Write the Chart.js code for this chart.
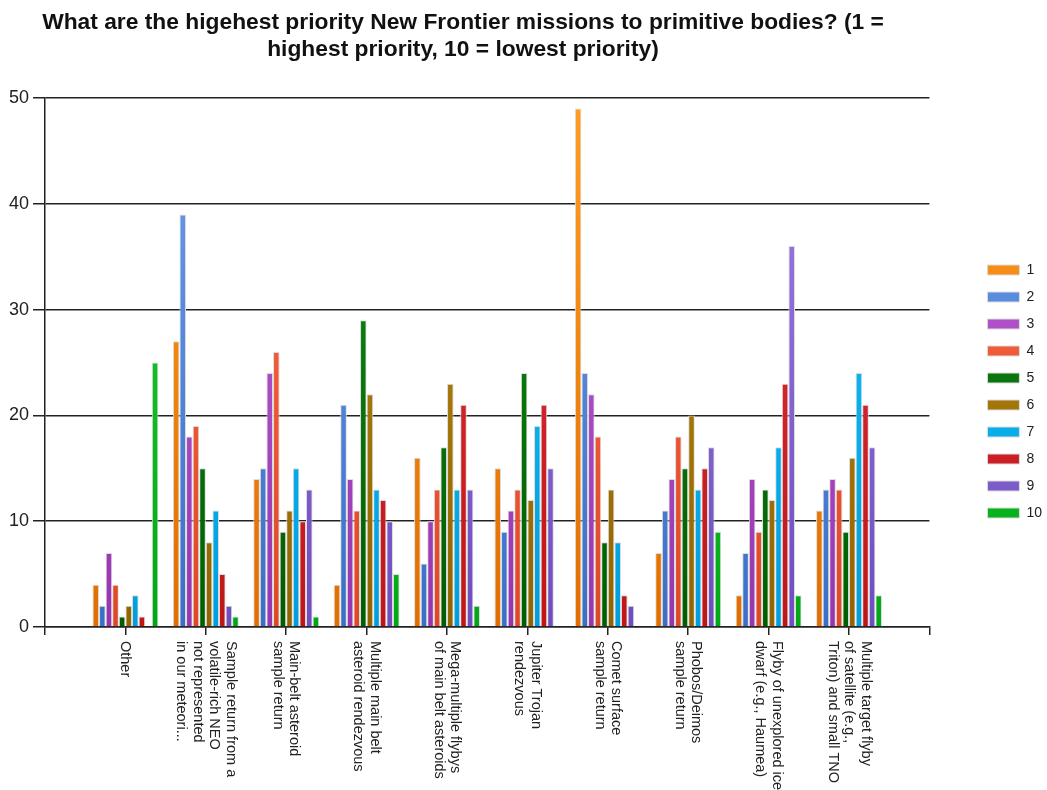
<!DOCTYPE html>
<html>
<head>
<meta charset="utf-8">
<title>New Frontier priorities</title>
<script src="https://cdn.jsdelivr.net/npm/chart.js@4.4.1/dist/chart.umd.min.js"></script>
<style>
  html, body { margin: 0; padding: 0; background: #fff; }
  #wrap { width: 1047px; height: 790px; position: relative; }
</style>
</head>
<body>
<div id="wrap"><canvas id="myChart"></canvas></div>
<script>
// survey answers: number of votes per rank (1..10) for each mission type
var missions = [
    ["Other"],
    ["Sample return from a", "volatile-rich NEO", "not represented", "in our meteori..."],
    ["Main-belt asteroid", "sample return"],
    ["Multiple main belt", "asteroid rendezvous"],
    ["Mega-multiple flybys", "of main belt asteroids"],
    ["Jupiter Trojan", "rendezvous"],
    ["Comet surface", "sample return"],
    ["Phobos/Deimos", "sample return"],
    ["Flyby of unexplored ice", "dwarf (e.g., Haumea)"],
    ["Multiple target flyby", "of satellite (e.g.,", "Triton) and small TNO"]
];
var ranks = ["1", "2", "3", "4", "5", "6", "7", "8", "9", "10"];

var rank1  = [4, 27, 14, 4, 16, 15, 49, 7, 3, 11];
var rank2  = [2, 39, 15, 21, 6, 9, 24, 11, 7, 13];
var rank3  = [7, 18, 24, 14, 10, 11, 22, 14, 14, 14];
var rank4  = [4, 19, 26, 11, 13, 13, 18, 18, 9, 13];
var rank5  = [1, 15, 9, 29, 17, 24, 8, 15, 13, 9];
var rank6  = [2, 8, 11, 22, 23, 12, 13, 20, 12, 16];
var rank7  = [3, 11, 15, 13, 13, 19, 8, 13, 17, 24];
var rank8  = [1, 5, 10, 12, 21, 21, 3, 15, 23, 21];
var rank9  = [0, 2, 13, 10, 13, 15, 2, 17, 36, 17];
var rank10 = [25, 1, 1, 5, 2, 0, 0, 9, 3, 3];

var yTicks = [0, 10, 20, 30, 40, 50];

var titleLines = [
    "What are the higehest priority New Frontier missions to primitive bodies? (1 =",
    "highest priority, 10 = lowest priority)"
];

var FONT = '"Liberation Sans", Arial, sans-serif';

// top / bottom colour of each rank's bars
var shades = [
    ['#ff9c22', '#e06e00'],
    ['#6c9eec', '#3b6fc6'],
    ['#c464dc', '#9636ae'],
    ['#ff6c4a', '#de4826'],
    ['#14901a', '#005e00'],
    ['#bc8c14', '#926400'],
    ['#18c8ff', '#009edc'],
    ['#ea3444', '#be1616'],
    ['#9e80e4', '#6e4ebe'],
    ['#24d436', '#00a816']
];

function shade(top, bottom) {
    return function (ctx) {
        var area = ctx.chart.chartArea;
        if (!area) return bottom;
        var g = ctx.chart.ctx.createLinearGradient(0, area.top, 0, area.bottom);
        g.addColorStop(0, top);
        g.addColorStop(1, bottom);
        return g;
    };
}

// empty slot at each end so the groups sit on ticks 1..10
function pad(arr) {
    return [null].concat(arr, [null]);
}

var series = [rank1, rank2, rank3, rank4, rank5, rank6, rank7, rank8, rank9, rank10];
var datasets = [];
for (var i = 0; i < series.length; i++) {
    datasets.push({
        label: ranks[i],
        data: pad(series[i]),
        backgroundColor: shade(shades[i][0], shades[i][1]),
        borderColor: '#dcdcdc',
        borderWidth: 1,
        categoryPercentage: 0.82,
        barPercentage: 1.0
    });
}

var titlePlugin = {
    id: 'surveyTitle',
    afterDraw: function (chart) {
        var ctx = chart.ctx;
        ctx.save();
        ctx.font = 'bold 22.8px ' + FONT;
        ctx.fillStyle = '#111';
        ctx.textAlign = 'center';
        ctx.textBaseline = 'alphabetic';
        ctx.fillText(titleLines[0], 463, 29);
        ctx.fillText(titleLines[1], 463, 56);
        ctx.restore();
    }
};

// category names run downwards, first line on the right
var missionLabels = {
    id: 'missionLabels',
    afterDraw: function (chart) {
        var ctx = chart.ctx;
        var xs = chart.scales.x;
        var lh = 16.5;
        ctx.save();
        ctx.font = '14.5px ' + FONT;
        ctx.fillStyle = '#222';
        ctx.textAlign = 'left';
        ctx.textBaseline = 'middle';
        for (var i = 0; i < missions.length; i++) {
            var lines = missions[i];
            var cx = xs.getPixelForValue(i + 1);
            for (var k = 0; k < lines.length; k++) {
                var off = ((lines.length - 1) / 2 - k) * lh;
                ctx.save();
                ctx.translate(cx + off, xs.top + 14);
                ctx.rotate(Math.PI / 2);
                ctx.fillText(lines[k], 0, 0);
                ctx.restore();
            }
        }
        ctx.restore();
    }
};

var ctx = document.getElementById('myChart').getContext('2d');
var chart = new Chart(ctx, {
    type: 'bar',
    data: {
        labels: [''].concat(missions.map(function (m) { return m.join(' '); }), ['']),
        datasets: datasets
    },
    options: {
        responsive: true,
        maintainAspectRatio: false,
        animation: false,
        layout: {
            padding: { top: 98, left: 5, right: -5, bottom: 105 }
        },
        plugins: {
            title: { display: false },
            tooltip: { enabled: false },
            legend: {
                position: 'right',
                labels: {
                    boxWidth: 32,
                    boxHeight: 10,
                    padding: 13,
                    color: '#222',
                    font: { family: FONT, size: 14 }
                }
            }
        },
        scales: {
            x: {
                offset: false,
                grid: {
                    offset: false,
                    drawOnChartArea: false,
                    drawTicks: true,
                    tickLength: 8,
                    color: '#222',
                    lineWidth: 1.5
                },
                border: { display: true, color: '#222', width: 1.5 },
                ticks: { display: false, autoSkip: false },
                afterFit: function (scale) { scale.height = 58; }
            },
            y: {
                min: 0,
                max: 50,
                afterBuildTicks: function (scale) {
                    scale.ticks = yTicks.map(function (v) { return { value: v }; });
                },
                grid: {
                    color: '#222',
                    lineWidth: 1.5,
                    tickLength: 12
                },
                border: { display: true, color: '#222', width: 1.5 },
                ticks: {
                    padding: 4,
                    color: '#222',
                    font: { family: FONT, size: 18 }
                }
            },
            gap: {
                type: 'linear',
                position: 'right',
                display: true,
                grid: { display: false },
                border: { display: false },
                ticks: { display: false },
                afterFit: function (scale) { scale.width = 45; }
            }
        }
    },
    plugins: [titlePlugin, missionLabels]
});
</script>
</body>
</html>
